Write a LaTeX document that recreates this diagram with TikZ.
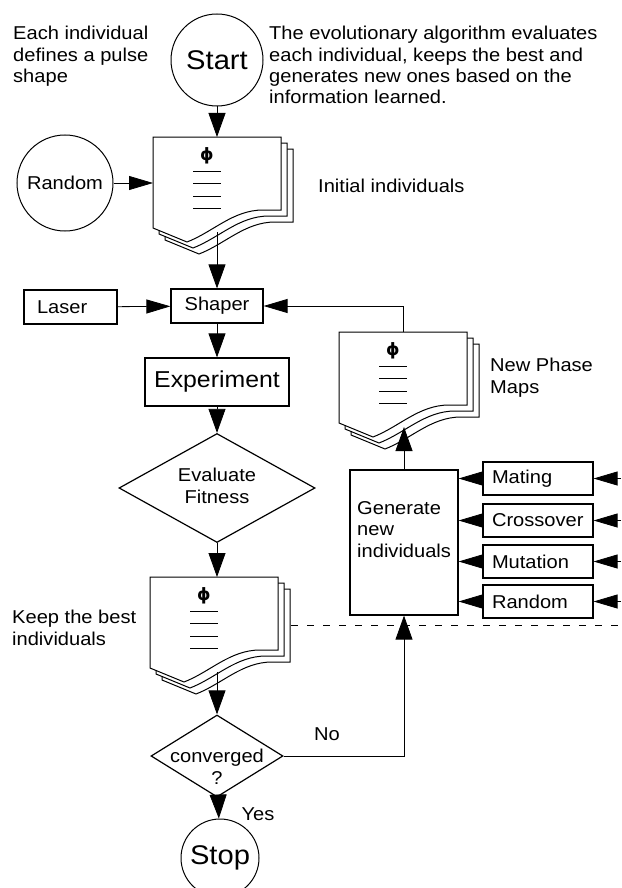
\documentclass[tikz,border=0pt]{standalone}
\usepackage{amsmath}
\usepackage{fontspec}
\setmainfont{Liberation Sans}[FakeStretch=1.08]
\newfontfamily\phifont{DejaVu Sans}
\usepackage{tikz}
\usetikzlibrary{arrows.meta}
\usetikzlibrary{shapes.geometric}

\begin{document}
\begin{tikzpicture}[x=1pt,y=-1pt,
	font=\fontsize{18.6}{21.5}\selectfont,
	box/.style={draw,line width=1.2pt,inner sep=0pt},
	opbox/.style={box,minimum width=110,minimum height=33,text width=92,inner xsep=9,align=left},
	dia/.style={diamond,draw,line width=1.2pt,inner sep=0pt},
	lbl/.style={anchor=base west,align=left,inner sep=0pt},
	sheet/.style={draw,fill=white,line width=1pt},
	vtip/.style={-{Triangle[length=24pt,width=17pt]},line width=0.8pt},
	htip/.style={-{Triangle[length=24pt,width=14pt]},line width=0.8pt}]
\useasboundingbox (0,0) rectangle (621,888);

% stacks of phase maps
\foreach \n/\x/\y in {ini/153/137,new/339/332,best/150/577}{
\begin{scope}[shift={(\x,\y)}]
	\foreach \d in {12,6,0}
		\draw[sheet] (\d,\d) -- ++(128,0) -- ++(0,73) -- ++(-18,0)
			.. controls +(-30,0) and +(26,-10) .. ++(-76,32) -- ++(-34,-14) -- cycle;
	\node[font=\phifont\bfseries\fontsize{17}{17}\selectfont] (\n-phi) at (54,19) {ϕ};
	\foreach \l in {34,46.5,59,71.5}
		\draw[line width=1pt] (40,\l) -- (68,\l);
	\coordinate (\n-n) at (64,0);
	\coordinate (\n-s) at (64,95);
	\coordinate (\n-w) at (0,45);
	\coordinate (\n-e) at (141,48);
\end{scope}
}
\coordinate (rim) at (621,0);

\node[circle,draw,line width=1pt,minimum size=92,inner sep=0pt,font=\fontsize{27}{27}\selectfont] (start) at (217,60) {Start};
\node[circle,draw,line width=1pt,minimum size=96,inner sep=0pt] (rand) at (65,183) {Random};
\node[box,minimum width=93,minimum height=34,text width=67,inner xsep=13,align=left] (laser) at (70.5,307) {Laser};
\node[box,minimum width=92,minimum height=34] (shaper) at (217,306) {Shaper};
\node[box,minimum width=144,minimum height=48,font=\fontsize{23}{23}\selectfont] (exp) at (217,382) {Experiment};
\node[dia,minimum width=196,minimum height=109] (eval) at (217,488) {};
\node[lbl,anchor=base,align=center] (evaltxt) at (217,503) {Evaluate\\Fitness};
\node[dia,minimum width=132,minimum height=82] (conv) at (217,756) {};
\node[lbl,anchor=base,align=center] (convtxt) at (217,784) {converged\\?};
\node[circle,draw,line width=1pt,minimum size=78,inner sep=0pt,font=\fontsize{27}{27}\selectfont] (stop) at (220,858) {Stop};

\node[box,minimum width=108,minimum height=145] (gen) at (404,542.5) {};
\node[lbl] (gentxt) at (357,557) {Generate\\new\\individuals};

\foreach \n/\t/\y in {mating/Mating/478.5,cross/Crossover/520.5,mut/Mutation/561.5,rnd/Random/601.5}{
	\node[opbox] (\n) at (538,\y) {\t};
	\draw[htip] (\n.west) -- (\n.west -| gen.east);
	\draw[htip] (\n.east -| rim) -- (\n.east);
}

\node[lbl] (note) at (13,83) {Each individual\\defines a pulse\\shape};
\node[lbl] (about) at (269,104) {The evolutionary algorithm evaluates\\each individual, keeps the best and\\generates new ones based on the\\information learned.};
\node[lbl] (inilbl) at (318,192) {Initial individuals};
\node[lbl] (newlbl) at (490,393) {New Phase\\Maps};
\node[lbl] (bestlbl) at (12,645) {Keep the best\\individuals};

\draw[vtip] (start) -- (ini-n);
\draw[htip] (rand) -- (rand -| ini-w);
\draw[vtip] (ini-s) -- (shaper);
\draw[htip] (laser) -- (shaper);
\draw[htip] (new-n) |- (shaper.east);
\draw[vtip] (shaper) -- (exp);
\draw[vtip] (exp) -- (eval);
\draw[vtip] (eval) -- (eval |- best-n);
\draw[vtip] (conv |- best-s) -- (conv);
\draw[vtip] (conv) -| (gen) node[pos=0.18,anchor=base,yshift=16pt] {No};
\draw[vtip] (conv) -- (stop) node[pos=1,anchor=base west,xshift=19pt,yshift=-2pt] {Yes};
\draw[vtip] (gen) -- (gen |- new-s);

\draw[line width=1pt,dash pattern=on 7pt off 9pt] (best-e) -- (best-e -| rim);

\end{tikzpicture}
\end{document}
